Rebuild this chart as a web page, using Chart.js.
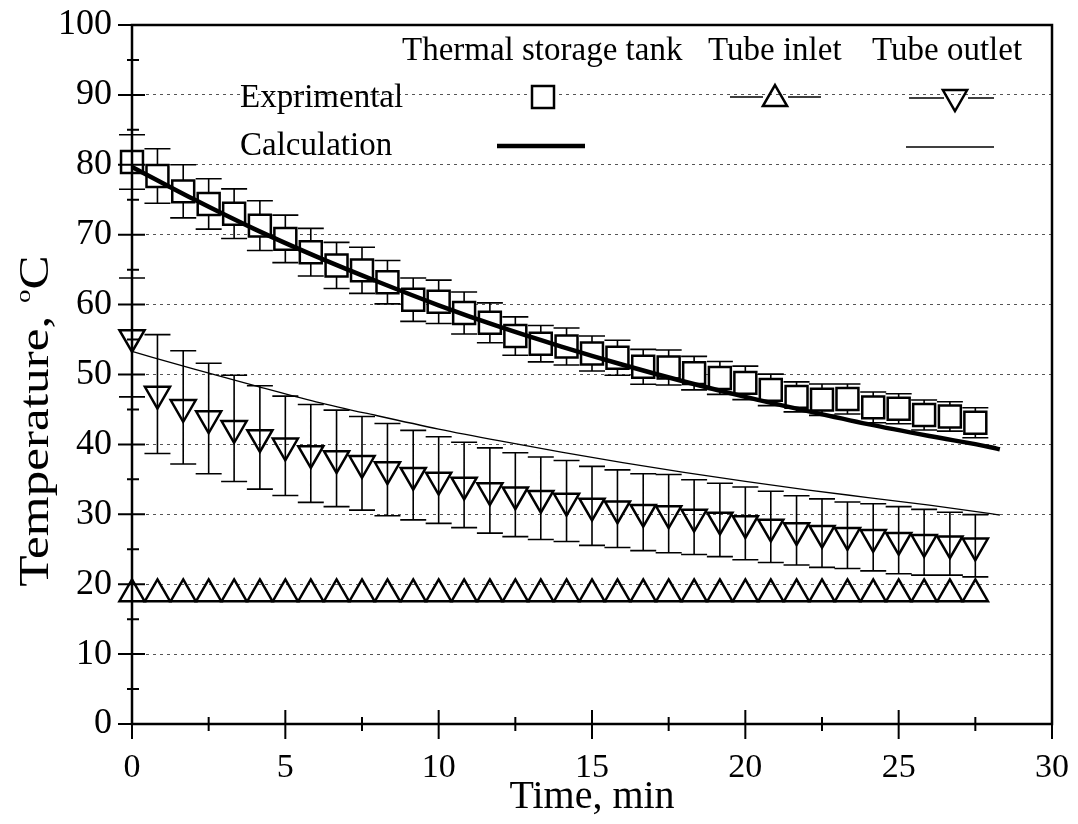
<!DOCTYPE html>
<html>
<head>
<meta charset="utf-8">
<script src="https://cdn.jsdelivr.net/npm/chart.js@4.4.1/dist/chart.umd.min.js"></script>
<style>
  body { margin: 0; background: #fff; }
  #wrap { width: 1078px; height: 824px; }
</style>
</head>
<body>
<div id="wrap"><canvas id="tempChart" width="1078" height="824"></canvas></div>
<script>
////Experimental sampling times, min (one reading every 50 s)
const times = [0, 0.83, 1.67, 2.5, 3.33, 4.17, 5, 5.83, 6.67, 7.5, 8.33, 9.17, 10, 10.83, 11.67, 12.5, 13.33,
    14.17, 15, 15.83, 16.67, 17.5, 18.33, 19.17, 20, 20.83, 21.67, 22.5, 23.33, 24.17, 25, 25.83, 26.67, 27.5];

////Thermal storage tank, experimental (C) and error bar half height
const tankExp = [80.4, 78.4, 76.2, 74.4, 73.0, 71.3, 69.4, 67.5, 65.6, 64.9, 63.2, 60.7, 60.4, 58.8, 57.4, 55.5, 54.4,
    54.0, 53.0, 52.4, 51.1, 51.0, 50.2, 49.5, 48.8, 47.8, 46.8, 46.4, 46.5, 45.3, 45.1, 44.2, 44.0, 43.1];
const tankErr = [3.9, 3.9, 3.8, 3.6, 3.55, 3.55, 3.4, 3.4, 3.3, 3.3, 3.1, 3.1, 3.1, 3.0, 2.85, 2.75, 2.6,
    2.65, 2.5, 2.5, 2.5, 2.5, 2.4, 2.35, 2.4, 2.25, 2.15, 2.25, 2.15, 2.2, 2.15, 2.15, 2.1, 2.15];

////Tube inlet, experimental
const inletExp = [18.6, 18.6, 18.6, 18.6, 18.6, 18.6, 18.6, 18.6, 18.6, 18.6, 18.6, 18.6, 18.6, 18.6, 18.6, 18.6, 18.6,
    18.6, 18.6, 18.6, 18.6, 18.6, 18.6, 18.6, 18.6, 18.6, 18.6, 18.6, 18.6, 18.6, 18.6, 18.6, 18.6, 18.6];

////Tube outlet, experimental and error bar half height
const outletExp = [55.3, 47.2, 45.3, 43.7, 42.3, 41.0, 39.8, 38.7, 38.0, 37.3, 36.4, 35.6, 34.9, 34.2, 33.4, 32.8, 32.3,
    31.9, 31.2, 30.8, 30.3, 30.1, 29.6, 29.2, 28.7, 28.2, 27.7, 27.3, 27.0, 26.7, 26.3, 26.0, 25.8, 25.5];
const outletErr = [8.5, 8.5, 8.1, 7.9, 7.6, 7.4, 7.1, 7.0, 6.9, 6.7, 6.6, 6.4, 6.2, 6.1, 6.1, 6.0, 5.9,
    5.8, 5.65, 5.55, 5.5, 5.6, 5.35, 5.25, 5.2, 5.1, 4.95, 4.9, 4.75, 4.8, 4.8, 4.7, 4.5, 4.45];

////Calculation curves
const calcTimes = [0, 2, 4, 6, 8, 10, 12, 14, 16, 18, 20, 22, 24, 26, 28, 28.3];
const tankCalc = [79.7, 75.1, 70.8, 66.9, 63.3, 59.9, 56.8, 54.0, 51.4, 49.0, 46.8, 44.8, 42.9, 41.2, 39.6, 39.3];
const outletCalc = [53.3, 50.8, 48.4, 46.1, 44.1, 42.2, 40.5, 38.9, 37.4, 36.0, 34.7, 33.5, 32.4, 31.3, 30.1, 29.9];

const SERIF = "'Liberation Serif', 'Times New Roman', serif";

//pair x and y arrays into chart points
function toPoints(xs, ys) {
    return xs.map((x, i) => ({ x: x, y: ys[i] }));
}

//draw an open triangle the same way Chart.js does (rot in degrees)
function triangle(ctx, x, y, r, rot) {
    let rad = rot * Math.PI / 180;
    ctx.beginPath();
    for (let k = 0; k < 3; k++) {
        const px = x + Math.sin(rad) * r, py = y - Math.cos(rad) * r;
        if (k === 0) ctx.moveTo(px, py); else ctx.lineTo(px, py);
        rad += 2 * Math.PI / 3;
    }
    ctx.closePath();
    ctx.stroke();
}

////Error bars, drawn under the markers
const errorBars = {
    id: 'errorBars',
    beforeDatasetsDraw(chart) {
        const ctx = chart.ctx, yScale = chart.scales.y;
        chart.data.datasets.forEach((ds, i) => {
            if (!ds.errors) return;
            const meta = chart.getDatasetMeta(i);
            ctx.save();
            ctx.strokeStyle = '#000';
            ctx.lineWidth = 1.6;
            ctx.beginPath();
            meta.data.forEach((pt, j) => {
                const v = ds.data[j].y, e = ds.errors[j];
                const top = yScale.getPixelForValue(v + e);
                const bot = yScale.getPixelForValue(v - e);
                ctx.moveTo(pt.x, top); ctx.lineTo(pt.x, bot);
                ctx.moveTo(pt.x - 13, top); ctx.lineTo(pt.x + 13, top);
                ctx.moveTo(pt.x - 13, bot); ctx.lineTo(pt.x + 13, bot);
            });
            ctx.stroke();
            ctx.restore();
        });
    }
};

////Box frame with ticks crossing the left and bottom axes
const frame = {
    id: 'frame',
    afterDatasetsDraw(chart) {
        const { ctx, chartArea: a, scales: { x, y } } = chart;
        ctx.save();
        ctx.strokeStyle = '#000';
        ctx.lineWidth = 2.5;
        ctx.strokeRect(a.left, a.top, a.right - a.left, a.bottom - a.top);
        ctx.lineWidth = 2;
        ctx.beginPath();
        for (let v = 0; v <= 100; v += 5) {
            const py = y.getPixelForValue(v);
            const big = v % 10 === 0;
            ctx.moveTo(a.left - (big ? 14 : 5), py);
            ctx.lineTo(a.left + (big ? 13 : 7), py);
        }
        for (let v = 0; v <= 30; v += 2.5) {
            const px = x.getPixelForValue(v);
            const big = v % 5 === 0;
            ctx.moveTo(px, a.bottom + (big ? 15 : 7));
            ctx.lineTo(px, a.bottom - (big ? 14 : 7));
        }
        ctx.stroke();
        ctx.restore();
    }
};

////Legend block inside the plot and the y axis title
const annotations = {
    id: 'annotations',
    afterDraw(chart) {
        const ctx = chart.ctx;
        ctx.save();
        ctx.fillStyle = '#000';
        ctx.strokeStyle = '#000';
        ctx.font = '33px ' + SERIF;
        ctx.textBaseline = 'alphabetic';
        ctx.fillText('Thermal storage tank', 402, 60);
        ctx.fillText('Tube inlet', 708, 60);
        ctx.fillText('Tube outlet', 872, 60);
        ctx.fillText('Exprimental', 240, 107);
        ctx.fillText('Calculation', 240, 155);

        //experimental markers
        ctx.lineWidth = 2.5;
        ctx.fillStyle = '#fff';
        ctx.fillRect(532, 86, 22, 22);
        ctx.strokeRect(532, 86, 22, 22);
        triangle(ctx, 775, 99, 14, 0);
        triangle(ctx, 955, 97, 14, 180);
        ctx.lineWidth = 1.5;
        ctx.beginPath();
        ctx.moveTo(730, 97); ctx.lineTo(763, 97);
        ctx.moveTo(788, 97); ctx.lineTo(821, 97);
        ctx.moveTo(909, 98); ctx.lineTo(944, 98);
        ctx.moveTo(968, 98); ctx.lineTo(994, 98);
        ctx.stroke();

        //calculation lines
        ctx.lineWidth = 4.5;
        ctx.beginPath(); ctx.moveTo(497, 146); ctx.lineTo(585, 146); ctx.stroke();
        ctx.lineWidth = 1.3;
        ctx.beginPath(); ctx.moveTo(906, 147); ctx.lineTo(994, 147); ctx.stroke();

        //y axis title with a superscript o
        ctx.fillStyle = '#000';
        ctx.translate(48, 421);
        ctx.rotate(-Math.PI / 2);
        ctx.scale(1.22, 1);
        const big = '42px ' + SERIF, small = '22px ' + SERIF;
        ctx.font = big;
        const w1 = ctx.measureText('Temperature, ').width;
        const w3 = ctx.measureText('C').width;
        ctx.font = small;
        const w2 = ctx.measureText('o').width;
        let start = -(w1 + w2 + w3) / 2;
        ctx.textAlign = 'left';
        ctx.font = big;
        ctx.fillText('Temperature, ', start, 0);
        ctx.font = small;
        ctx.fillText('o', start + w1, -18);
        ctx.font = big;
        ctx.fillText('C', start + w1 + w2, 0);
        ctx.restore();
    }
};

var ctx = document.getElementById('tempChart').getContext('2d');
var tempChart = new Chart(ctx, {
    type: 'scatter',
    data: {
        datasets: [
            {
                label: 'Thermal storage tank (calculation)',
                data: toPoints(calcTimes, tankCalc),
                showLine: true,
                borderColor: '#000',
                borderWidth: 4.5,
                pointRadius: 0,
                cubicInterpolationMode: 'monotone',
                order: 0
            },
            {
                label: 'Tube outlet (calculation)',
                data: toPoints(calcTimes, outletCalc),
                showLine: true,
                borderColor: '#000',
                borderWidth: 1.3,
                pointRadius: 0,
                cubicInterpolationMode: 'monotone',
                order: 0
            },
            {
                label: 'Thermal storage tank (experimental)',
                data: toPoints(times, tankExp),
                errors: tankErr,
                pointStyle: 'rect',
                pointRadius: 15.5,
                pointBorderWidth: 2.5,
                pointBorderColor: '#000',
                pointBackgroundColor: '#fff',
                order: 2
            },
            {
                label: 'Tube inlet (experimental)',
                data: toPoints(times, inletExp),
                pointStyle: 'triangle',
                pointRadius: 14.5,
                pointBorderWidth: 2.5,
                pointBorderColor: '#000',
                pointBackgroundColor: 'rgba(0,0,0,0)',
                order: 2
            },
            {
                label: 'Tube outlet (experimental)',
                data: toPoints(times, outletExp),
                errors: outletErr,
                pointStyle: 'triangle',
                pointRotation: 180,
                pointRadius: 14.5,
                pointBorderWidth: 2.5,
                pointBorderColor: '#000',
                pointBackgroundColor: 'rgba(0,0,0,0)',
                order: 2
            }
        ]
    },
    options: {
        responsive: false,
        animation: false,
        clip: false,
        layout: { padding: { top: 25, right: 26, left: 0, bottom: 0 } },
        plugins: {
            legend: { display: false },
            tooltip: { enabled: false }
        },
        scales: {
            x: {
                type: 'linear',
                min: 0,
                max: 30,
                afterFit: (scale) => { scale.height = 100; },
                border: { display: false },
                //invisible tick marks only push the labels down
                grid: {
                    drawOnChartArea: false,
                    drawTicks: true,
                    tickLength: 24,
                    color: 'rgba(0,0,0,0)',
                    tickColor: 'rgba(0,0,0,0)'
                },
                ticks: {
                    stepSize: 5,
                    padding: 0,
                    color: '#000',
                    font: { family: SERIF, size: 34 }
                },
                title: {
                    display: true,
                    text: 'Time, min',
                    color: '#000',
                    font: { family: SERIF, size: 40 },
                    padding: { top: 0, bottom: 3 }
                }
            },
            y: {
                min: 0,
                max: 100,
                afterFit: (scale) => { scale.width = 132; },
                border: { display: false, dash: [3, 4] },
                grid: {
                    drawTicks: true,
                    tickLength: 20,
                    tickColor: 'rgba(0,0,0,0)',
                    lineWidth: 1,
                    color: (c) => (c.tick && (c.tick.value === 0 || c.tick.value === 100)) ? 'rgba(0,0,0,0)' : '#555'
                },
                ticks: {
                    stepSize: 10,
                    padding: 0,
                    color: '#000',
                    font: { family: SERIF, size: 36 }
                }
            }
        }
    },
    plugins: [errorBars, frame, annotations]
});
</script>
</body>
</html>
